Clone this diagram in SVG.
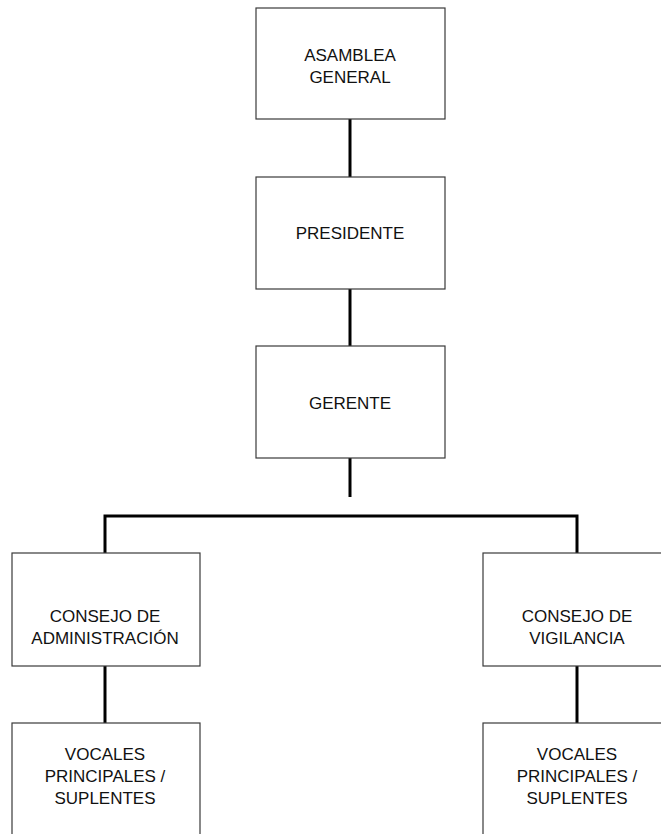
<svg xmlns="http://www.w3.org/2000/svg" width="661" height="834" viewBox="0 0 661 834">
<style>
.box{fill:#ffffff;stroke:#3a3a3a;stroke-width:1.2}
.lbl{font-family:"Liberation Sans",Arial,sans-serif;font-size:17px;fill:#111111;text-anchor:middle}
.con{stroke:#000000;stroke-width:3;fill:none}
</style>
<rect width="661" height="834" fill="#ffffff"/>
<g id="connectors">
<line class="con" x1="350" y1="119" x2="350" y2="177"/>
<line class="con" x1="350" y1="289" x2="350" y2="346"/>
<line class="con" x1="350" y1="458" x2="350" y2="497"/>
<polyline class="con" points="105,553 105,516 577,516 577,553"/>
<line class="con" x1="105" y1="666" x2="105" y2="723"/>
<line class="con" x1="577" y1="666" x2="577" y2="723"/>
</g>
<g id="asamblea">
<rect class="box" x="256" y="8" width="189" height="111"/>
<text class="lbl" x="350" y="61">ASAMBLEA</text>
<text class="lbl" x="350" y="83">GENERAL</text>
</g>
<g id="presidente">
<rect class="box" x="256" y="177" width="189" height="112"/>
<text class="lbl" x="350" y="239">PRESIDENTE</text>
</g>
<g id="gerente">
<rect class="box" x="256" y="346" width="189" height="112"/>
<text class="lbl" x="350" y="409">GERENTE</text>
</g>
<g id="consejo-administracion">
<rect class="box" x="12" y="553" width="188" height="113"/>
<text class="lbl" x="105" y="622">CONSEJO DE</text>
<text class="lbl" x="105" y="644">ADMINISTRACIÓN</text>
</g>
<g id="consejo-vigilancia">
<rect class="box" x="483" y="553" width="189" height="113"/>
<text class="lbl" x="577" y="622">CONSEJO DE</text>
<text class="lbl" x="577" y="644">VIGILANCIA</text>
</g>
<g id="vocales-admin">
<rect class="box" x="12" y="723" width="188" height="130"/>
<text class="lbl" x="105" y="760">VOCALES</text>
<text class="lbl" x="105" y="782">PRINCIPALES /</text>
<text class="lbl" x="105" y="804">SUPLENTES</text>
</g>
<g id="vocales-vigilancia">
<rect class="box" x="483" y="723" width="189" height="130"/>
<text class="lbl" x="577" y="760">VOCALES</text>
<text class="lbl" x="577" y="782">PRINCIPALES /</text>
<text class="lbl" x="577" y="804">SUPLENTES</text>
</g>
</svg>
